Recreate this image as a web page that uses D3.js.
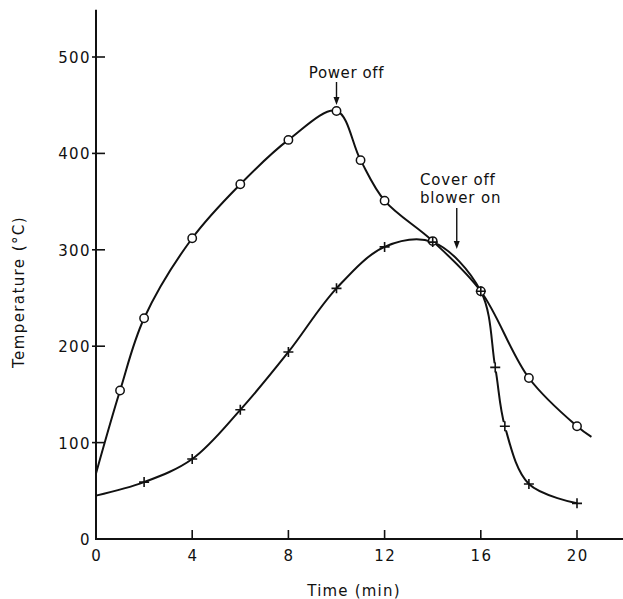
<!DOCTYPE html>
<html>
<head>
<meta charset="utf-8">
<script src="https://cdn.jsdelivr.net/npm/d3@7"></script>
<style>
  body { margin: 0; background: #fff; }
  svg text { font-family: "DejaVu Sans", sans-serif; fill: #111; }
</style>
</head>
<body>
<div id="chart"></div>
<script>
// circle series (marked points) and where the drawn curve starts / ends
const circleTimes = [1, 2, 4, 6, 8, 10, 11, 12, 14, 16, 18, 20];
const circleTemps = [154, 229, 312, 368, 414, 444, 393, 351, 309, 257, 167, 117];
const circleStart = [0, 68];
const circleEnd = [20.6, 106];

// plus series
const plusTimes = [2, 4, 6, 8, 10, 12, 14, 16, 16.6, 17, 18, 20];
const plusTemps = [59, 83, 134, 194, 260, 303, 308, 257, 178, 117, 57, 37];
const plusStart = [0, 45];

const xTicks = [0, 4, 8, 12, 16, 20];
const yTicks = [0, 100, 200, 300, 400, 500];

const width = 623, height = 599;
const x = d3.scaleLinear().domain([0, 22]).range([96, 96 + 22 * 24.05]);
const y = d3.scaleLinear().domain([0, 500]).range([539, 57]);

const svg = d3.select('#chart').append('svg')
  .attr('width', width)
  .attr('height', height);

// axes
svg.append('line')
  .attr('x1', x(0)).attr('x2', x(0))
  .attr('y1', y(0)).attr('y2', y(549))
  .attr('stroke', '#111').attr('stroke-width', 2);
svg.append('line')
  .attr('x1', x(0) - 1).attr('x2', width)
  .attr('y1', y(0)).attr('y2', y(0))
  .attr('stroke', '#111').attr('stroke-width', 2);

svg.selectAll('.xtick')
  .data(xTicks.filter(d => d > 0))
  .enter().append('line')
  .attr('x1', d => x(d)).attr('x2', d => x(d))
  .attr('y1', y(0)).attr('y2', y(0) - 9)
  .attr('stroke', '#111').attr('stroke-width', 1.6);

svg.selectAll('.xlabel')
  .data(xTicks)
  .enter().append('text')
  .attr('x', d => x(d) + 0.7)
  .attr('y', y(0) + 22)
  .attr('text-anchor', 'middle')
  .attr('font-size', 15)
  .attr('letter-spacing', 1.4)
  .text(d => d);

svg.selectAll('.ytick')
  .data(yTicks.filter(d => d > 0))
  .enter().append('line')
  .attr('x1', x(0) - 4).attr('x2', x(0) + 9)
  .attr('y1', d => y(d)).attr('y2', d => y(d))
  .attr('stroke', '#111').attr('stroke-width', 1.6);

svg.selectAll('.ylabel')
  .data(yTicks)
  .enter().append('text')
  .attr('x', x(0) - 5)
  .attr('y', d => y(d) + 6)
  .attr('text-anchor', 'end')
  .attr('font-size', 15)
  .attr('letter-spacing', 1.4)
  .text(d => d);

svg.append('text')
  .attr('x', 354).attr('y', 596)
  .attr('text-anchor', 'middle')
  .attr('font-size', 15)
  .attr('letter-spacing', 1.2)
  .text('Time (min)');

svg.append('text')
  .attr('transform', 'translate(24,292) rotate(-90)')
  .attr('text-anchor', 'middle')
  .attr('font-size', 15)
  .attr('letter-spacing', 1.4)
  .text('Temperature (°C)');

// curves
const line = d3.line()
  .x(d => x(d[0]))
  .y(d => y(d[1]))
  .curve(d3.curveCatmullRom.alpha(0.5));

const circlePts = [circleStart].concat(circleTimes.map((t, i) => [t, circleTemps[i]]), [circleEnd]);
const plusPts = [plusStart].concat(plusTimes.map((t, i) => [t, plusTemps[i]]));

svg.append('path')
  .datum(circlePts)
  .attr('d', line)
  .attr('fill', 'none').attr('stroke', '#111').attr('stroke-width', 2);

svg.append('path')
  .datum(plusPts)
  .attr('d', line)
  .attr('fill', 'none').attr('stroke', '#111').attr('stroke-width', 2);

// markers
svg.selectAll('.circ')
  .data(circleTimes)
  .enter().append('circle')
  .attr('cx', d => x(d))
  .attr('cy', (d, i) => y(circleTemps[i]))
  .attr('r', 4.2)
  .attr('fill', '#fff').attr('stroke', '#111').attr('stroke-width', 1.5);

const plus = svg.selectAll('.plus')
  .data(plusTimes)
  .enter().append('g')
  .attr('transform', (d, i) => `translate(${x(d)},${y(plusTemps[i])})`);
plus.append('rect').attr('x', -4).attr('y', -4).attr('width', 8).attr('height', 8).attr('fill', '#fff')
  .attr('opacity', (d) => (circleTimes.includes(d) ? 0 : 1));
plus.append('path')
  .attr('d', 'M-5,0H5M0,-5V5')
  .attr('stroke', '#111').attr('stroke-width', 1.6);

// annotations with arrows
function arrow(cx, y1, tipY) {
  svg.append('line')
    .attr('x1', cx).attr('x2', cx)
    .attr('y1', y1).attr('y2', tipY - 6)
    .attr('stroke', '#111').attr('stroke-width', 1.4);
  svg.append('path')
    .attr('d', `M${cx - 3},${tipY - 8}L${cx + 3},${tipY - 8}L${cx},${tipY}Z`)
    .attr('fill', '#111');
}

svg.append('text')
  .attr('x', x(10) + 10).attr('y', 78)
  .attr('text-anchor', 'middle')
  .attr('font-size', 15)
  .attr('letter-spacing', 0.6)
  .text('Power off');
arrow(x(10), 82, y(444) - 6);

svg.append('text')
  .attr('x', 420).attr('y', 185)
  .attr('font-size', 15)
  .attr('letter-spacing', 0.8)
  .text('Cover off');
svg.append('text')
  .attr('x', 420).attr('y', 203)
  .attr('font-size', 15)
  .attr('letter-spacing', 0.8)
  .text('blower on');
arrow(x(15), 208, 249);
</script>
</body>
</html>
